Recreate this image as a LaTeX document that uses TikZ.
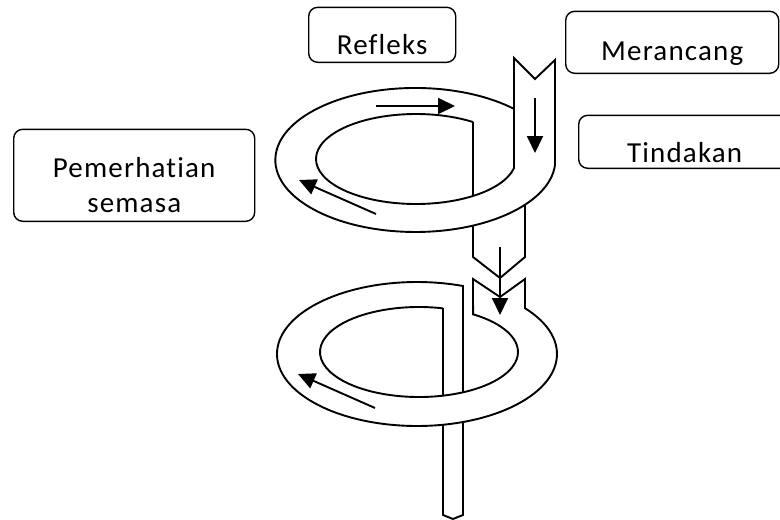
\documentclass[tikz,border=0pt]{standalone}
\usepackage{fontspec}
\setmainfont[LetterSpace=4, Ligatures=CommonOff]{Carlito}
\usetikzlibrary{arrows.meta}

\tikzset{
  kotak/.style={draw, rounded corners=9pt, line width=1.4pt, inner sep=0pt, anchor=south west, font=\fontsize{29}{35}\selectfont},
  garis/.style={line width=1.9pt, line join=miter},
  panah/.style={line width=1.9pt, -{Triangle[length=17pt, width=16pt]}}
}

\begin{document}
\begin{tikzpicture}[x=1pt, y=-1pt]
\useasboundingbox (0,0) rectangle (780,520);

\node (refleks) at (308,63) [kotak, minimum width=147pt, text height=47pt, text depth=8pt] {Refleks};
\node (merancang) at (565,74) [kotak, minimum width=213pt, text height=49pt, text depth=13pt] {Merancang};
\node (tindakan) at (578,169) [kotak, minimum width=212pt, text height=47pt, text depth=6pt] {Tindakan};
\node (pemerhatian) at (13,222) [kotak, minimum width=241pt, align=center, text height=83pt, text depth=9pt] {Pemerhatian\\semasa};

% gelung atas
\draw[garis] (416,159) ++(304.8:100 and 45) arc[start angle=304.8, end angle=11.5, x radius=100, y radius=45]
  -- (514,58) -- (535,79) -- (555,60) -- (555,165)
  arc[start angle=4, end angle=314.4, x radius=140, y radius=72];
\draw[garis] (473,122) -- (473,196);
\draw[garis] (473,225.5) -- (473,257) -- (500,278) -- (525,257) -- (525,204.5);

% gelung bawah
\draw[garis] (419,352) ++(284:99 and 45) arc[start angle=284, end angle=-56.9, x radius=99, y radius=45]
  -- (473,279) -- (500,297) -- (525,279) -- (525,308.2)
  arc[start angle=-39.5, end angle=289.2, x radius=140, y radius=72]
  -- (463,392.3);
\draw[garis] (443,308.3) -- (443,395.7);
\draw[garis] (443,424.8) -- (443,515) -- (453,519) -- (463,515) -- (463,422);

\coordinate (a1) at (376,106);
\coordinate (b1) at (455,106);
\coordinate (a2) at (376,214);
\coordinate (b2) at (299,180);
\coordinate (a3) at (535,98);
\coordinate (b3) at (535,153);
\coordinate (a4) at (500,247);
\coordinate (b4) at (500,315);
\coordinate (a5) at (375,408);
\coordinate (b5) at (298,374);

\draw[panah] (a1) -- (b1);
\draw[panah] (a2) -- (b2);
\draw[panah] (a3) -- (b3);
\draw[panah] (a4) -- (b4);
\draw[panah] (a5) -- (b5);
\end{tikzpicture}
\end{document}
